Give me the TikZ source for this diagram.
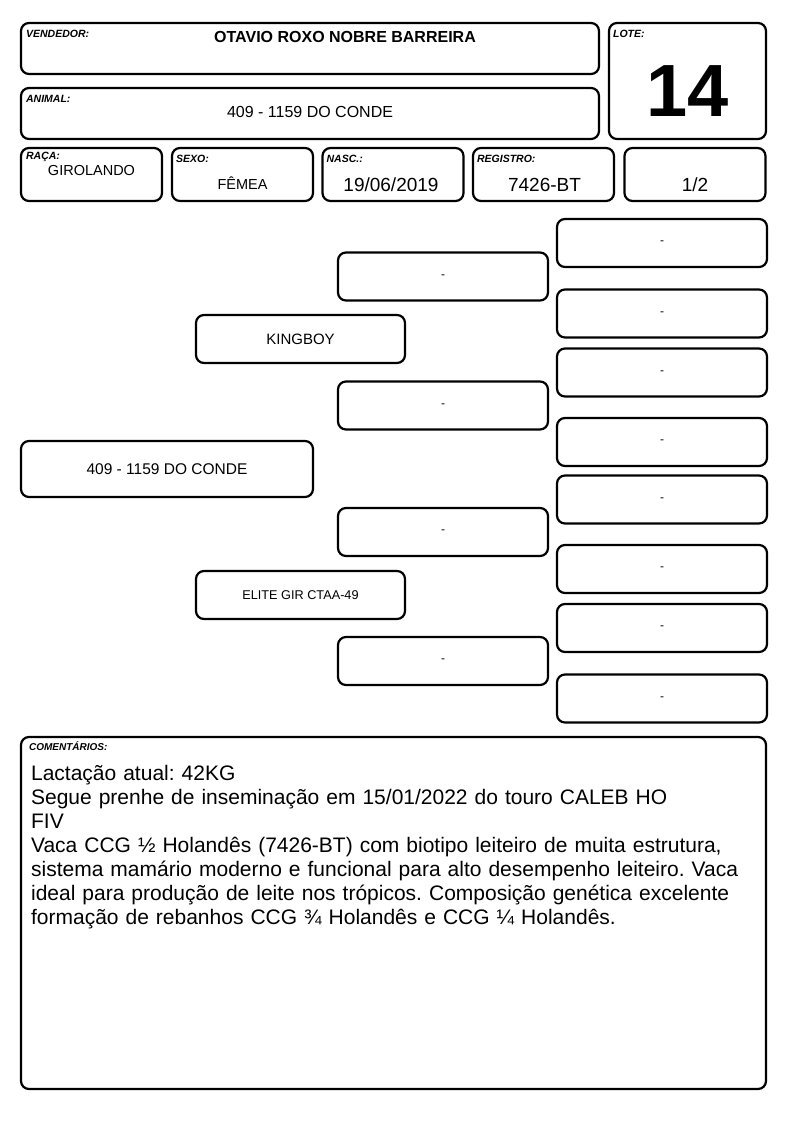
\documentclass[tikz,border=0pt]{standalone}
\usepackage{fontspec}
\setmainfont{Liberation Sans}
\usetikzlibrary{positioning}
\frenchspacing

\begin{document}
\begin{tikzpicture}[x=1pt, y=-1pt,
        box/.style={draw, line width=2.2pt, rounded corners=8pt, inner sep=0pt},
        cell/.style={box, minimum width=141pt, minimum height=53pt},
        lbl/.style={anchor=base west, inner sep=0pt,
                    font=\fontsize{10.5}{12}\selectfont\bfseries\itshape},
        val/.style={inner sep=0pt, font=\fontsize{14.5}{17}\selectfont},
        bigval/.style={inner sep=0pt, font=\fontsize{19}{22}\selectfont},
        gen/.style={box, minimum width=209pt, minimum height=48pt,
                    font=\fontsize{15}{18}\selectfont},
        far/.style={gen, minimum width=210pt, font=\fontsize{12}{14}\selectfont}
    ]
    \useasboundingbox[fill=white] (0,0) rectangle (794,1123);

    % --- header ---
    \node[box, minimum width=578pt, minimum height=51pt] (vend) at (310, 48.5) {};
    \node[lbl] at ([xshift=6pt, yshift=-16pt]vend.north west) {VENDEDOR:};
    \node[inner sep=0pt, font=\fontsize{16}{19}\selectfont\bfseries]
        at ([xshift=35pt, yshift=-15pt]vend.north) {OTAVIO ROXO NOBRE BARREIRA};

    \node[box, minimum width=578pt, minimum height=51pt] (anim) at (310, 113.5) {};
    \node[lbl] at ([xshift=6pt, yshift=-16pt]anim.north west) {ANIMAL:};
    \node[inner sep=0pt, font=\fontsize{16}{19}\selectfont]
        at ([yshift=-25pt]anim.north) {409 - 1159 DO CONDE};

    \node[box, minimum width=157pt, minimum height=116pt] (lote) at (687.5, 81) {};
    \node[lbl] at ([xshift=5pt, yshift=-16pt]lote.north west) {LOTE:};
    \node[inner sep=0pt, font=\fontsize{74}{80}\selectfont\bfseries]
        at ([yshift=-10pt]lote.center) {14};

    % --- data row ---
    \node[cell] (raca) at (91.5, 174.5) {};
    \node[lbl] at ([xshift=6pt, yshift=-13pt]raca.north west) {RAÇA:};
    \node[val] at ([yshift=-24pt]raca.north) {GIROLANDO};

    \node[cell] (sexo) at (242.5, 174.5) {};
    \node[lbl] at ([xshift=5pt, yshift=-16pt]sexo.north west) {SEXO:};
    \node[val] at ([yshift=-36pt]sexo.north) {FÊMEA};

    \node[cell] (nasc) at (393, 174.5) {};
    \node[lbl] at ([xshift=5pt, yshift=-16pt]nasc.north west) {NASC.:};
    \node[bigval] at ([xshift=-2pt, yshift=-38pt]nasc.north) {19/06/2019};

    \node[cell] (reg) at (543.5, 174.5) {};
    \node[lbl] at ([xshift=5pt, yshift=-16pt]reg.north west) {REGISTRO:};
    \node[bigval] at ([xshift=1pt, yshift=-38pt]reg.north) {7426-BT};

    \node[cell] (frac) at (695, 174.5) {};
    \node[bigval] at ([yshift=-38pt]frac.north) {1/2};

    % --- pedigree ---
    \node[gen, minimum width=292pt, minimum height=56pt,
          font=\fontsize{15.5}{18}\selectfont] (animal) at (167, 469) {409 - 1159 DO CONDE};

    \node[gen] (sire) at (300.5, 339) {KINGBOY};
    \node[gen, font=\fontsize{12.7}{15}\selectfont] (dam) at (300.5, 595) {ELITE GIR CTAA-49};

    \node[far] (ss) at (443, 276.5) {-};
    \node[far] (sd) at (443, 405.5) {-};
    \node[far] (ds) at (443, 532) {-};
    \node[far] (dd) at (443, 661) {-};

    \node[far] (sss) at (662, 243) {-};
    \node[far] (ssd) at (662, 313.5) {-};
    \node[far] (sds) at (662, 372.5) {-};
    \node[far] (sdd) at (662, 442) {-};
    \node[far] (dss) at (662, 499.5) {-};
    \node[far] (dsd) at (662, 569) {-};
    \node[far] (dds) at (662, 628) {-};
    \node[far] (ddd) at (662, 698.5) {-};

    % --- comments ---
    \node[box, minimum width=745pt, minimum height=352pt] (com) at (393.5, 913) {};
    \node[lbl, font=\fontsize{10}{12}\selectfont\bfseries\itshape]
        at ([xshift=9pt, yshift=-15pt]com.north west) {COMENTÁRIOS:};
    \node[anchor=north west, inner sep=0pt, align=left, text width=730pt,
          font=\fontsize{21}{24}\selectfont]
        at ([xshift=11pt, yshift=-29pt]com.north west)
        {Lactação atual: 42KG\\
         Segue prenhe de inseminação em 15/01/2022 do touro CALEB HO\\
         FIV\\
         Vaca CCG ½ Holandês (7426-BT) com biotipo leiteiro de muita estrutura,\\
         sistema mamário moderno e funcional para alto desempenho leiteiro. Vaca\\
         ideal para produção de leite nos trópicos. Composição genética excelente\\
         formação de rebanhos CCG ¾ Holandês e CCG ¼ Holandês.};
\end{tikzpicture}
\end{document}
